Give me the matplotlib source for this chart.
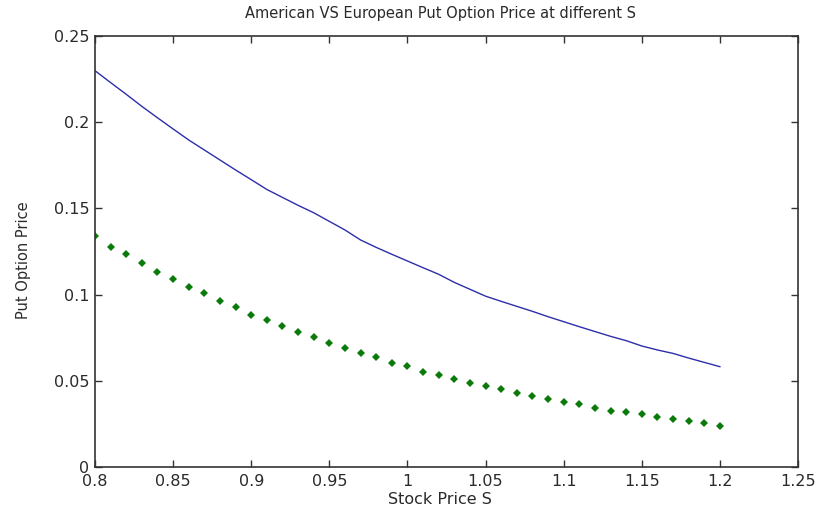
import numpy as np
import matplotlib
matplotlib.use("Agg")
import matplotlib.pyplot as plt

plt.rcParams['font.family'] = ['DejaVu Sans']

# Stock prices used for both pricing curves
stock_price = [round(0.80 + 0.01 * i, 2) for i in range(41)]

# American put price (solid line)
american_put = [
    0.2299, 0.2230, 0.2162, 0.2092, 0.2026, 0.1961, 0.1897, 0.1839, 0.1781, 0.1723,
    0.1667, 0.1610, 0.1564, 0.1518, 0.1475, 0.1425, 0.1375, 0.1317, 0.1274, 0.1234,
    0.1195, 0.1156, 0.1118, 0.1071, 0.1031, 0.0991, 0.0961, 0.0932, 0.0903, 0.0872,
    0.0843, 0.0814, 0.0786, 0.0758, 0.0733, 0.0702, 0.0679, 0.0659, 0.0632, 0.0607,
    0.0582,
]

# European put price (diamond markers)
european_put = [
    0.1340, 0.1278, 0.1235, 0.1183, 0.1133, 0.1089, 0.1044, 0.1009, 0.0965, 0.0926,
    0.0884, 0.0853, 0.0818, 0.0781, 0.0752, 0.0721, 0.0688, 0.0663, 0.0636, 0.0605,
    0.0584, 0.0553, 0.0532, 0.0510, 0.0487, 0.0468, 0.0451, 0.0429, 0.0410, 0.0393,
    0.0377, 0.0364, 0.0342, 0.0327, 0.0319, 0.0306, 0.0290, 0.0277, 0.0269, 0.0255,
    0.0240,
]

x_ticks = [0.8, 0.85, 0.9, 0.95, 1.0, 1.05, 1.1, 1.15, 1.2, 1.25]
x_tick_labels = ['0.8', '0.85', '0.9', '0.95', '1', '1.05', '1.1', '1.15', '1.2', '1.25']
y_ticks = [0, 0.05, 0.1, 0.15, 0.2, 0.25]
y_tick_labels = ['0', '0.05', '0.1', '0.15', '0.2', '0.25']

text_color = '#2a2a2a'

fig = plt.figure(figsize=(8.21, 5.15), dpi=100, facecolor='white')
ax = fig.add_axes([0.1157, 0.0932, 0.8563, 0.8368])

ax.plot(stock_price, american_put, color='#2e2eaa', linewidth=1.0)
ax.plot(stock_price, european_put, linestyle='none', marker='D',
        markersize=3.6, color='#0a7a0a', markeredgewidth=0)

ax.set_xlim(0.8, 1.25)
ax.set_ylim(0, 0.25)
ax.set_xticks(x_ticks)
ax.set_xticklabels(x_tick_labels)
ax.set_yticks(y_ticks)
ax.set_yticklabels(y_tick_labels)

ax.tick_params(direction='in', top=True, right=True, length=5, width=1,
               labelsize=11.5, color='#333333', labelcolor=text_color)
ax.tick_params(axis='x', pad=5)
ax.tick_params(axis='y', pad=4)
for spine in ax.spines.values():
    spine.set_color('#333333')
    spine.set_linewidth(1.2)

title = ax.set_title('American VS European Put Option Price at different S',
                     fontsize=10.5, color=text_color, pad=13)
title.set_x(0.492)
ax.set_xlabel('Stock Price S', fontsize=11.5, color=text_color)
ax.xaxis.set_label_coords(0.49, -0.058)
ax.set_ylabel('Put Option Price', fontsize=10.5, color=text_color)
ax.yaxis.set_label_coords(-0.091, 0.48)

fig.savefig('out.png', dpi=100, facecolor='white')
